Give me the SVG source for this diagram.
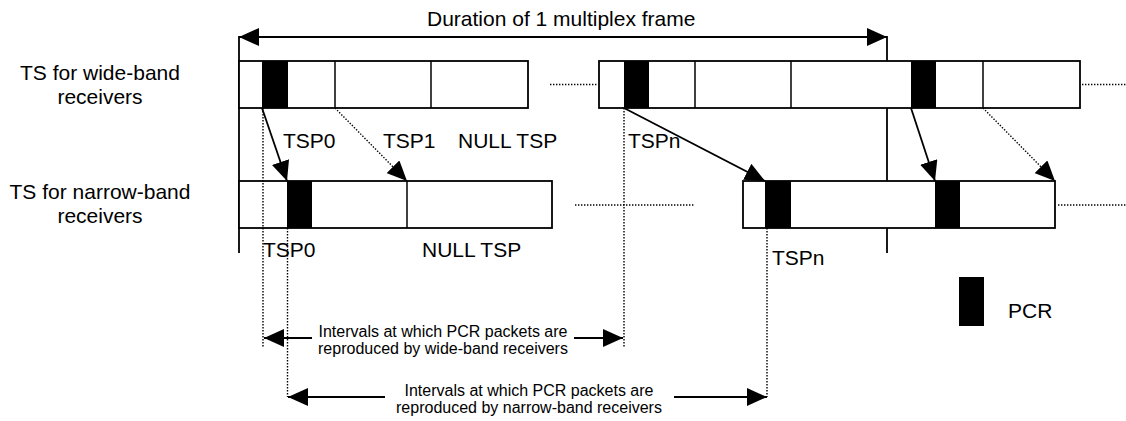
<svg xmlns="http://www.w3.org/2000/svg" width="1126" height="421" viewBox="0 0 1126 421">
<style>
text{font-family:"Liberation Sans",Arial,sans-serif;fill:#000}
.lbl{font-size:21px}
.sm{font-size:16px}
.mid{text-anchor:middle}
.box{fill:#fff;stroke:#000;stroke-width:1.8}
.div{stroke:#000;stroke-width:1.5}
.pcr{fill:#000}
.sol{stroke:#000;stroke-width:1.8;fill:none}
.dot{stroke:#000;stroke-width:1.4;stroke-dasharray:1.4 1.6;fill:none}
</style>
<defs>
<marker id="ah" markerUnits="userSpaceOnUse" markerWidth="20" markerHeight="18" refX="20" refY="9" orient="auto-start-reverse" viewBox="0 0 20 18">
<path d="M0,0 L20,9 L0,18 z" fill="#000" stroke="none"/>
</marker>
</defs>
<rect width="1126" height="421" fill="#fff"/>

<g id="label-wide">
<text class="lbl mid" x="100" y="80">TS for wide-band</text>
<text class="lbl mid" x="100" y="104">receivers</text>
</g>
<g id="label-narrow">
<text class="lbl mid" x="100" y="199">TS for narrow-band</text>
<text class="lbl mid" x="100" y="223">receivers</text>
</g>

<g id="frame-duration">
<line class="sol" x1="239" y1="37" x2="887" y2="37" marker-start="url(#ah)" marker-end="url(#ah)"/>
<line class="sol" x1="239" y1="36" x2="239" y2="253"/>
<line class="sol" x1="887" y1="36" x2="887" y2="253"/>
<text class="lbl" x="427" y="26">Duration of 1 multiplex frame</text>
</g>

<g id="wide-ts-1">
<rect class="box" x="239" y="61" width="289" height="47"/>
<rect class="pcr" x="262" y="61" width="26" height="47"/>
<line class="div" x1="335" y1="61" x2="335" y2="108"/>
<line class="div" x1="431" y1="61" x2="431" y2="108"/>
</g>
<g id="wide-ts-2">
<rect class="box" x="599" y="61" width="481" height="47"/>
<rect class="pcr" x="624" y="61" width="25" height="47"/>
<line class="div" x1="695" y1="61" x2="695" y2="108"/>
<line class="div" x1="791" y1="61" x2="791" y2="108"/>
<rect class="pcr" x="911" y="61" width="25" height="47"/>
<line class="div" x1="983" y1="61" x2="983" y2="108"/>
</g>
<g id="narrow-ts-1">
<rect class="box" x="239" y="181" width="313" height="47"/>
<rect class="pcr" x="287" y="181" width="25" height="47"/>
<line class="div" x1="407" y1="181" x2="407" y2="228"/>
</g>
<g id="narrow-ts-2">
<rect class="box" x="743" y="181" width="312" height="47"/>
<rect class="pcr" x="765" y="181" width="26" height="47"/>
<rect class="pcr" x="935" y="181" width="25" height="47"/>
</g>

<g id="tsp-labels">
<text class="lbl" x="283" y="148">TSP0</text>
<text class="lbl" x="383" y="148">TSP1</text>
<text class="lbl" x="458" y="148">NULL TSP</text>
<text class="lbl" x="628" y="148">TSPn</text>
<text class="lbl" x="263" y="257">TSP0</text>
<text class="lbl" x="422" y="257">NULL TSP</text>
<text class="lbl" x="772" y="265">TSPn</text>
</g>

<g id="legend-pcr">
<rect class="pcr" x="959" y="277" width="25" height="49"/>
<text class="lbl" x="1008" y="318">PCR</text>
</g>

<g id="interval-wide">
<text class="sm mid" x="443" y="337">Intervals at which PCR packets are</text>
<text class="sm mid" x="443" y="354">reproduced by wide-band receivers</text>
</g>
<g id="interval-narrow">
<text class="sm mid" x="529" y="396">Intervals at which PCR packets are</text>
<text class="sm mid" x="529" y="413">reproduced by narrow-band receivers</text>
</g>

<g id="connectors">
<line class="dot" x1="550" y1="84.5" x2="598" y2="84.5"/>
<line class="dot" x1="1082" y1="84.5" x2="1126" y2="84.5"/>
<line class="dot" x1="575" y1="205" x2="695" y2="205"/>
<line class="dot" x1="1058" y1="205" x2="1126" y2="205"/>

<line class="sol" x1="262" y1="108" x2="287" y2="181" marker-end="url(#ah)"/>
<line class="dot" x1="335" y1="108" x2="407" y2="181" marker-end="url(#ah)"/>
<line class="sol" x1="624" y1="108" x2="765" y2="181" marker-end="url(#ah)"/>
<line class="sol" x1="911" y1="108" x2="935" y2="181" marker-end="url(#ah)"/>
<line class="dot" x1="983" y1="108" x2="1055" y2="181" marker-end="url(#ah)"/>

<line class="dot" x1="263" y1="108" x2="263" y2="347"/>
<line class="dot" x1="624" y1="108" x2="624" y2="347"/>
<line class="dot" x1="287.5" y1="228" x2="287.5" y2="397"/>
<line class="dot" x1="767" y1="228" x2="767" y2="397"/>

<line class="sol" x1="264" y1="338" x2="312" y2="338" marker-start="url(#ah)"/>
<line class="sol" x1="574" y1="338" x2="623" y2="338" marker-end="url(#ah)"/>
<line class="sol" x1="288" y1="397" x2="385" y2="397" marker-start="url(#ah)"/>
<line class="sol" x1="674" y1="397" x2="767" y2="397" marker-end="url(#ah)"/>
</g>
</svg>
